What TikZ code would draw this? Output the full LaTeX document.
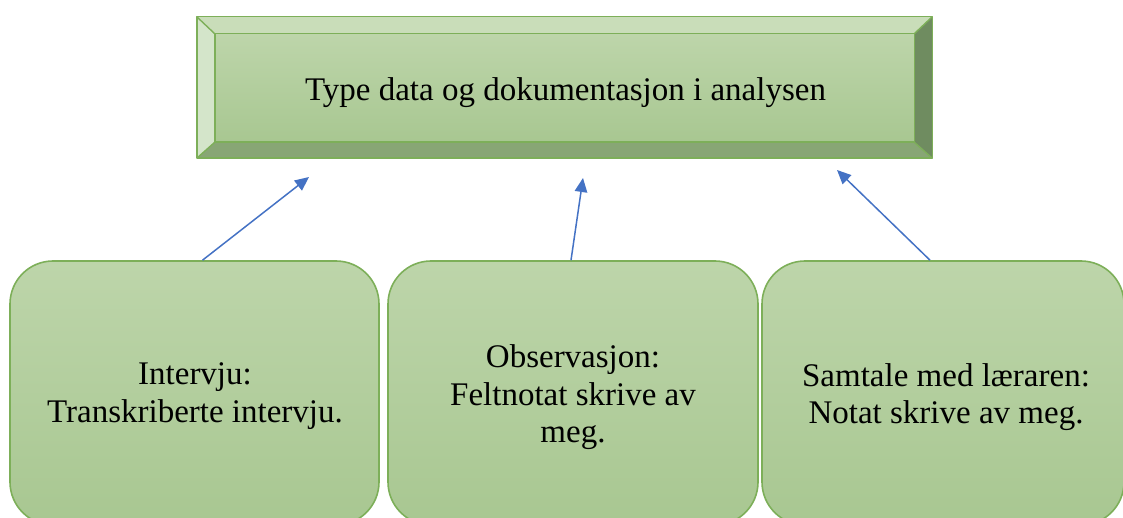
\documentclass[tikz,border=0pt]{standalone}
\usepackage{fontspec}
\setmainfont{Liberation Serif}
\usetikzlibrary{calc,arrows.meta}
\pgfdeclarelayer{background}
\pgfsetlayers{background,main}
\definecolor{bord}{HTML}{7DAF59}
\definecolor{fillTop}{HTML}{BDD5AA}
\definecolor{fillBot}{HTML}{A8C791}
\definecolor{bevT}{HTML}{C9DDB9}
\definecolor{bevL}{HTML}{D4E5CA}
\definecolor{bevB}{HTML}{88A675}
\definecolor{bevR}{HTML}{6F8C60}
\definecolor{arr}{HTML}{4472C4}
\tikzset{
  x=1pt, y=-1pt,
  txt/.style={font=\fontsize{33}{37.5}\selectfont, align=center, inner sep=0pt, text=black},
  topbox/.style={minimum width=735pt, minimum height=141pt, inner sep=0pt, font=\fontsize{33}{37.5}\selectfont},
  roundbox/.style={draw=bord, line width=1.6pt, rounded corners=43pt, top color=fillTop, bottom color=fillBot, minimum height=264pt, inner sep=0pt},
  bevel/.style={draw=bord, line width=1.4pt, line join=round},
  link/.style={draw=arr, line width=1.5pt, -{Triangle[length=14pt,width=12.5pt]}}
}
\begin{document}
\begin{tikzpicture}
\useasboundingbox (0,0) rectangle (1123,518);
% top bevel box
\node[topbox] (top) at (564.5,87.5) {};
\node[txt] (toptext) at (565.5,93) {Type data og dokumentasjon i analysen};
\begin{pgfonlayer}{background}
  \coordinate (onw) at (top.north west);
  \coordinate (one) at (top.north east);
  \coordinate (osw) at (top.south west);
  \coordinate (ose) at (top.south east);
  \coordinate (inw) at ($(onw)+(18,17)$);
  \coordinate (ine) at ($(one)+(-18,17)$);
  \coordinate (isw) at ($(osw)+(18,-16)$);
  \coordinate (ise) at ($(ose)+(-18,-16)$);
  \fill[top color=fillTop, bottom color=fillBot] (inw) rectangle (ise);
  \fill[bevT] (onw) -- (one) -- (ine) -- (inw) -- cycle;
  \fill[bevL] (onw) -- (inw) -- (isw) -- (osw) -- cycle;
  \fill[bevB] (osw) -- (isw) -- (ise) -- (ose) -- cycle;
  \fill[bevR] (one) -- (ose) -- (ise) -- (ine) -- cycle;
  \draw[bevel] (onw) rectangle (ose);
  \draw[bevel] (inw) rectangle (ise);
  \draw[bevel] (onw) -- (inw);
  \draw[bevel] (one) -- (ine);
  \draw[bevel] (osw) -- (isw);
  \draw[bevel] (ose) -- (ise);
\end{pgfonlayer}
% bottom boxes
\node[roundbox, minimum width=369pt] (b1) at (194.5,393) {};
\node[roundbox, minimum width=370pt] (b2) at (573,393) {};
\node[roundbox, minimum width=362pt] (b3) at (943,393) {};
\node[txt] (t1) at (195,396) {Intervju:\\Transkriberte intervju.};
\node[txt] (t2) at (573,397.5) {Observasjon:\\Feltnotat skrive av\\meg.};
\node[txt] (t3) at (946,397) {Samtale med læraren:\\Notat skrive av meg.};
% arrow targets
\coordinate (e1) at (309,177);
\coordinate (e2) at (583,178);
\coordinate (e3) at (837,170);
\draw[link] ($(b1.north)+(8,0)$) -- (e1);
\draw[link] ($(b2.north)+(-2,0)$) -- (e2);
\draw[link] ($(b3.north)+(-13,0)$) -- (e3);
\end{tikzpicture}
\end{document}
